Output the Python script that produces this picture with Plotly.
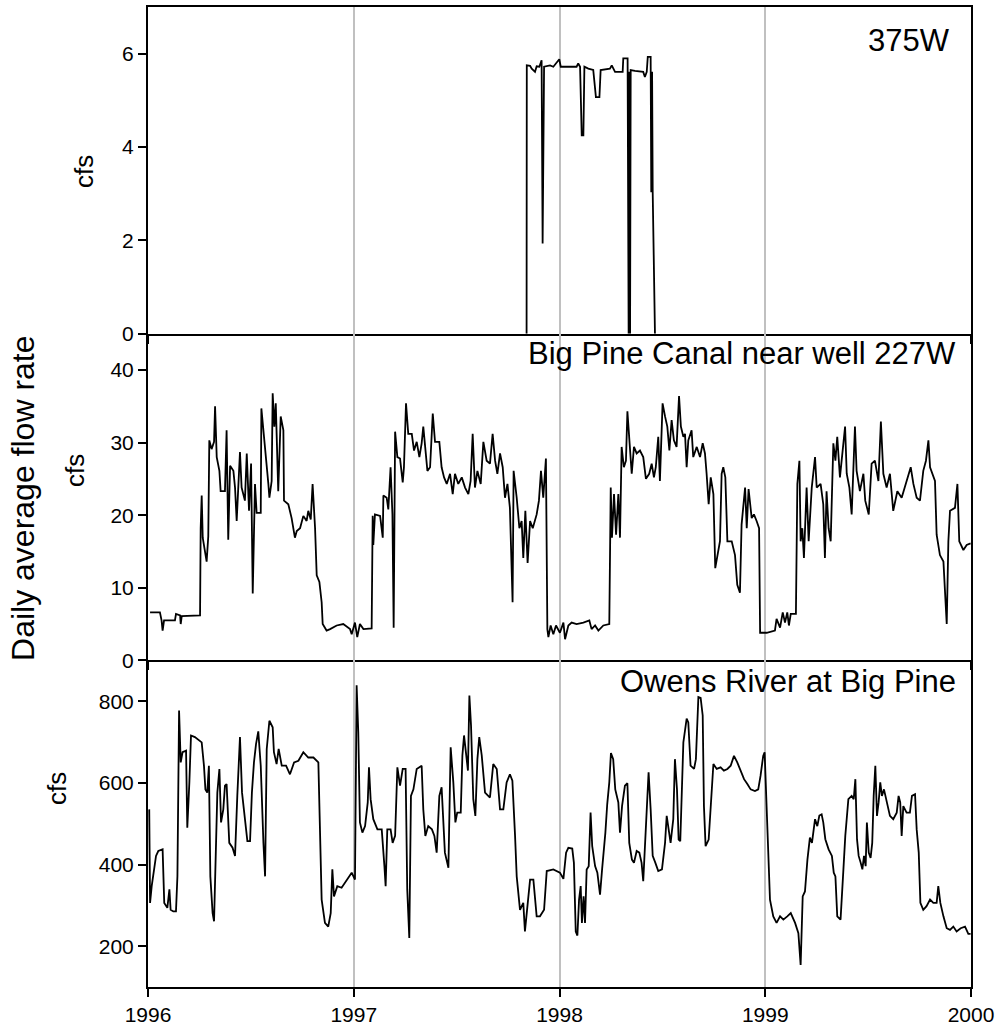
import plotly.graph_objects as go
from plotly.subplots import make_subplots

# ---------------- data (decimal years, cfs) ----------------
well_year = [1997.840, 1997.841, 1997.857, 1997.865, 1997.881, 1997.889, 1997.902, 1997.913, 1997.918,
             1997.925, 1997.954, 1997.970, 1997.999, 1998.006, 1998.083, 1998.091, 1998.100, 1998.108, 1998.116,
             1998.121, 1998.140, 1998.164, 1998.177, 1998.194, 1998.200, 1998.245, 1998.254, 1998.270, 1998.307,
             1998.310, 1998.331, 1998.336, 1998.339, 1998.343, 1998.346, 1998.367, 1998.407, 1998.415, 1998.424,
             1998.429, 1998.443, 1998.446, 1998.450, 1998.453, 1998.464]
well_cfs = [0, 5.75, 5.74, 5.68, 5.61, 5.73, 5.72, 5.86, 1.93,
            5.72, 5.75, 5.72, 5.88, 5.72, 5.72, 5.79, 5.72, 4.25, 4.25,
            5.72, 5.68, 5.65, 5.07, 5.07, 5.65, 5.68, 5.75, 5.61, 5.61,
            5.90, 5.90, 0, 5.61, 0, 5.65, 5.63, 5.61, 5.50, 5.61,
            5.93, 5.93, 3.03, 5.61, 3.03, 0]

canal_year = [
    1996.010, 1996.058, 1996.066, 1996.071, 1996.078, 1996.131, 1996.136, 1996.156, 1996.159, 1996.164,
    1996.253, 1996.256, 1996.261, 1996.266, 1996.285, 1996.293, 1996.298, 1996.309, 1996.321, 1996.326,
    1996.334, 1996.347, 1996.353, 1996.374, 1996.382, 1996.390, 1996.399, 1996.415, 1996.423, 1996.431,
    1996.447, 1996.455, 1996.471, 1996.480, 1996.491, 1996.501, 1996.509, 1996.520, 1996.528, 1996.548,
    1996.551, 1996.561, 1996.574, 1996.585, 1996.590, 1996.601, 1996.606, 1996.614, 1996.621, 1996.625,
    1996.633, 1996.645, 1996.658, 1996.661, 1996.682, 1996.698, 1996.714, 1996.723, 1996.739, 1996.755,
    1996.771, 1996.779, 1996.791, 1996.800, 1996.812, 1996.820, 1996.833, 1996.844, 1996.849, 1996.868,
    1996.885, 1996.917, 1996.949, 1996.982, 1996.990, 1997.006, 1997.017, 1997.030, 1997.047, 1997.087,
    1997.092, 1997.095, 1997.103, 1997.128, 1997.141, 1997.144, 1997.160, 1997.168, 1997.179, 1997.188,
    1997.194, 1997.201, 1997.212, 1997.225, 1997.238, 1997.244, 1997.254, 1997.265, 1997.282, 1997.293,
    1997.306, 1997.319, 1997.330, 1997.338, 1997.351, 1997.358, 1997.371, 1997.384, 1997.395, 1997.416,
    1997.427, 1997.439, 1997.452, 1997.468, 1997.481, 1997.492, 1997.508, 1997.525, 1997.541, 1997.557,
    1997.568, 1997.578, 1997.589, 1997.601, 1997.617, 1997.630, 1997.646, 1997.662, 1997.675, 1997.687,
    1997.698, 1997.711, 1997.724, 1997.735, 1997.747, 1997.759, 1997.772, 1997.777, 1997.792, 1997.805,
    1997.816, 1997.824, 1997.834, 1997.845, 1997.857, 1997.870, 1997.889, 1997.900, 1997.910, 1997.921,
    1997.934, 1997.941, 1997.946, 1997.957, 1997.970, 1997.983, 1998.002, 1998.019, 1998.027, 1998.043,
    1998.059, 1998.083, 1998.116, 1998.145, 1998.156, 1998.173, 1998.189, 1998.213, 1998.242, 1998.249,
    1998.255, 1998.265, 1998.275, 1998.286, 1998.294, 1998.302, 1998.313, 1998.323, 1998.330, 1998.339,
    1998.351, 1998.362, 1998.375, 1998.391, 1998.407, 1998.420, 1998.436, 1998.448, 1998.459, 1998.468,
    1998.480, 1998.488, 1998.501, 1998.513, 1998.524, 1998.534, 1998.545, 1998.556, 1998.569, 1998.581,
    1998.590, 1998.602, 1998.610, 1998.618, 1998.626, 1998.642, 1998.650, 1998.667, 1998.683, 1998.696,
    1998.707, 1998.715, 1998.725, 1998.735, 1998.748, 1998.757, 1998.767, 1998.780, 1998.788, 1998.796,
    1998.806, 1998.816, 1998.837, 1998.853, 1998.864, 1998.877, 1998.885, 1998.902, 1998.910, 1998.919,
    1998.934, 1998.945, 1998.958, 1998.970, 1998.975, 1999.007, 1999.047, 1999.055, 1999.072, 1999.085,
    1999.096, 1999.107, 1999.115, 1999.124, 1999.149, 1999.156, 1999.166, 1999.172, 1999.180, 1999.188,
    1999.201, 1999.211, 1999.226, 1999.242, 1999.250, 1999.269, 1999.282, 1999.290, 1999.298, 1999.308,
    1999.318, 1999.331, 1999.341, 1999.350, 1999.363, 1999.376, 1999.388, 1999.396, 1999.409, 1999.420,
    1999.436, 1999.444, 1999.460, 1999.477, 1999.486, 1999.503, 1999.517, 1999.533, 1999.550, 1999.562,
    1999.574, 1999.590, 1999.606, 1999.622, 1999.642, 1999.663, 1999.687, 1999.707, 1999.720, 1999.736,
    1999.752, 1999.768, 1999.781, 1999.793, 1999.801, 1999.825, 1999.833, 1999.841, 1999.849, 1999.866,
    1999.882, 1999.890, 1999.898, 1999.922, 1999.934, 1999.943, 1999.963, 1999.979, 1999.998]
canal_cfs = [
    6.6, 6.6, 5.5, 4.1, 5.5, 5.5, 6.4, 6.2, 5.0, 6.1,
    6.2, 18.2, 22.7, 16.9, 13.6, 17.1, 30.3, 29.1, 30.1, 35.0,
    28.0, 26.1, 23.3, 23.3, 31.7, 16.6, 26.8, 26.1, 23.8, 19.2,
    28.7, 23.8, 22.0, 28.5, 20.6, 27.1, 9.2, 24.3, 20.3, 20.3,
    34.7, 31.7, 28.5, 24.3, 22.4, 24.7, 36.8, 32.2, 35.4, 31.2,
    23.3, 33.6, 31.7, 22.0, 21.5, 19.6, 16.9, 17.8, 18.2, 19.9,
    19.2, 20.6, 19.4, 24.3, 18.2, 11.7, 10.8, 8.0, 5.0, 4.1,
    4.3, 4.8, 5.0, 4.3, 3.6, 5.2, 3.2, 5.0, 4.3, 4.4,
    19.9, 15.9, 20.1, 19.9, 16.9, 22.7, 22.4, 20.8, 26.6, 20.1,
    4.5, 31.5, 28.0, 27.8, 24.5, 26.6, 35.4, 31.2, 31.2, 28.9,
    30.1, 28.0, 29.9, 32.2, 28.0, 26.1, 26.6, 34.0, 30.1, 30.1,
    26.6, 25.2, 24.3, 25.7, 22.9, 25.7, 24.3, 25.2, 23.8, 22.9,
    24.7, 31.2, 23.8, 26.1, 24.3, 30.1, 27.5, 27.1, 31.2, 27.5,
    25.7, 28.5, 26.6, 22.4, 24.3, 21.0, 8.0, 26.1, 22.4, 18.2,
    19.2, 14.1, 20.6, 13.4, 19.2, 18.2, 20.1, 22.0, 26.1, 22.4,
    27.8, 4.3, 3.2, 4.8, 3.6, 4.8, 3.8, 5.2, 2.9, 4.8,
    5.2, 5.0, 5.2, 5.5, 4.3, 4.8, 4.1, 4.8, 5.0, 23.8,
    16.9, 22.9, 17.3, 22.9, 16.9, 29.4, 26.6, 27.5, 34.3, 29.9,
    25.7, 29.4, 28.5, 28.9, 28.0, 25.0, 25.7, 27.1, 25.2, 26.6,
    30.8, 24.7, 35.4, 33.6, 32.2, 28.9, 33.1, 30.3, 29.4, 36.4,
    32.2, 30.8, 31.2, 26.6, 30.3, 31.7, 28.0, 29.4, 28.0, 29.9,
    28.5, 25.7, 21.5, 25.2, 22.9, 12.7, 14.1, 16.4, 25.7, 26.6,
    25.2, 16.4, 16.4, 14.5, 10.4, 9.3, 18.7, 23.8, 18.2, 23.6,
    19.6, 20.1, 19.2, 18.2, 3.8, 3.8, 4.1, 5.7, 4.5, 6.6,
    5.2, 6.6, 4.8, 6.4, 6.4, 24.3, 27.5, 16.4, 18.2, 14.1,
    23.8, 16.4, 23.8, 28.0, 23.8, 24.3, 21.5, 14.1, 23.3, 18.2,
    16.4, 29.9, 27.5, 30.8, 25.2, 28.5, 32.2, 25.7, 23.8, 20.1,
    32.2, 26.1, 23.3, 25.7, 22.0, 20.1, 27.1, 27.5, 24.7, 32.9,
    25.7, 23.8, 25.7, 20.6, 23.3, 22.4, 24.7, 26.6, 24.3, 22.4,
    22.0, 26.1, 27.5, 30.3, 26.6, 24.7, 17.3, 15.5, 14.5, 13.6,
    5.0, 16.4, 20.6, 21.0, 24.3, 16.4, 15.2, 15.9, 16.1]

river_year = [
    1996.006, 1996.010, 1996.018, 1996.029, 1996.039, 1996.050, 1996.071, 1996.079, 1996.094, 1996.104,
    1996.110, 1996.123, 1996.136, 1996.143, 1996.151, 1996.159, 1996.168, 1996.185, 1996.191, 1996.201,
    1996.209, 1996.228, 1996.249, 1996.261, 1996.272, 1996.279, 1996.288, 1996.296, 1996.303, 1996.314,
    1996.321, 1996.327, 1996.337, 1996.347, 1996.355, 1996.366, 1996.374, 1996.382, 1996.395, 1996.411,
    1996.423, 1996.434, 1996.447, 1996.457, 1996.471, 1996.483, 1996.496, 1996.505, 1996.515, 1996.525,
    1996.536, 1996.548, 1996.561, 1996.569, 1996.577, 1996.590, 1996.606, 1996.612, 1996.625, 1996.635,
    1996.650, 1996.671, 1996.690, 1996.710, 1996.731, 1996.755, 1996.779, 1996.804, 1996.828, 1996.836,
    1996.844, 1996.860, 1996.876, 1996.888, 1996.896, 1996.904, 1996.920, 1996.941, 1996.957, 1996.974,
    1996.990, 1997.006, 1997.014, 1997.022, 1997.030, 1997.042, 1997.055, 1997.068, 1997.074, 1997.082,
    1997.095, 1997.115, 1997.136, 1997.149, 1997.155, 1997.163, 1997.179, 1997.189, 1997.201, 1997.212,
    1997.225, 1997.238, 1997.252, 1997.260, 1997.270, 1997.278, 1997.290, 1997.306, 1997.330, 1997.338,
    1997.348, 1997.362, 1997.380, 1997.392, 1997.403, 1997.416, 1997.427, 1997.443, 1997.460, 1997.471,
    1997.484, 1997.494, 1997.503, 1997.520, 1997.528, 1997.536, 1997.546, 1997.555, 1997.562, 1997.570,
    1997.581, 1997.591, 1997.601, 1997.610, 1997.622, 1997.638, 1997.662, 1997.678, 1997.695, 1997.711,
    1997.727, 1997.743, 1997.759, 1997.771, 1997.784, 1997.792, 1997.808, 1997.824, 1997.832, 1997.844,
    1997.857, 1997.873, 1997.889, 1997.905, 1997.925, 1997.938, 1997.970, 1998.002, 1998.019, 1998.032,
    1998.043, 1998.062, 1998.070, 1998.079, 1998.087, 1998.095, 1998.103, 1998.109, 1998.117, 1998.124,
    1998.132, 1998.142, 1998.151, 1998.159, 1998.173, 1998.184, 1998.197, 1998.207, 1998.216, 1998.223,
    1998.232, 1998.242, 1998.250, 1998.261, 1998.271, 1998.286, 1998.294, 1998.304, 1998.318, 1998.330,
    1998.339, 1998.352, 1998.362, 1998.375, 1998.388, 1998.399, 1998.407, 1998.424, 1998.433, 1998.443,
    1998.453, 1998.466, 1998.480, 1998.498, 1998.513, 1998.521, 1998.531, 1998.540, 1998.553, 1998.561,
    1998.571, 1998.579, 1998.587, 1998.602, 1998.618, 1998.626, 1998.637, 1998.654, 1998.663, 1998.675,
    1998.686, 1998.696, 1998.702, 1998.710, 1998.725, 1998.739, 1998.748, 1998.764, 1998.783, 1998.799,
    1998.816, 1998.832, 1998.848, 1998.864, 1998.880, 1998.897, 1998.913, 1998.929, 1998.950, 1998.966,
    1998.977, 1998.990, 1998.997, 1999.005, 1999.015, 1999.023, 1999.039, 1999.055, 1999.072, 1999.088,
    1999.107, 1999.124, 1999.145, 1999.161, 1999.172, 1999.182, 1999.193, 1999.205, 1999.217, 1999.227,
    1999.242, 1999.253, 1999.263, 1999.274, 1999.282, 1999.292, 1999.308, 1999.324, 1999.333, 1999.341,
    1999.350, 1999.366, 1999.379, 1999.389, 1999.404, 1999.420, 1999.430, 1999.438, 1999.446, 1999.454,
    1999.464, 1999.472, 1999.480, 1999.488, 1999.494, 1999.503, 1999.512, 1999.520, 1999.527, 1999.535,
    1999.543, 1999.551, 1999.559, 1999.567, 1999.577, 1999.593, 1999.606, 1999.622, 1999.639, 1999.648,
    1999.656, 1999.663, 1999.671, 1999.687, 1999.703, 1999.713, 1999.728, 1999.736, 1999.746, 1999.754,
    1999.768, 1999.784, 1999.801, 1999.817, 1999.833, 1999.841, 1999.851, 1999.866, 1999.882, 1999.898,
    1999.914, 1999.930, 1999.950, 1999.971, 1999.987, 1999.998]
river_cfs = [
    535, 306, 347, 388, 421, 433, 437, 306, 294, 339,
    289, 285, 285, 371, 777, 650, 675, 679, 490, 601,
    716, 712, 703, 699, 642, 584, 576, 642, 371, 281,
    261, 388, 576, 634, 503, 535, 593, 597, 453, 441,
    421, 568, 712, 576, 511, 457, 457, 576, 650, 695,
    726, 642, 453, 371, 683, 752, 736, 675, 646, 683,
    642, 642, 621, 650, 654, 675, 662, 662, 650, 503,
    314, 257, 248, 281, 388, 322, 347, 343, 355, 371,
    380, 363, 839, 724, 503, 478, 494, 552, 638, 560,
    511, 486, 486, 396, 347, 486, 486, 453, 470, 638,
    593, 634, 634, 339, 220, 568, 584, 634, 642, 535,
    470, 494, 486, 470, 429, 568, 589, 429, 392, 687,
    601, 503, 527, 527, 667, 716, 675, 630, 814, 740,
    560, 519, 658, 712, 667, 576, 564, 646, 634, 535,
    535, 601, 621, 605, 470, 371, 289, 306, 236, 298,
    363, 363, 273, 273, 289, 384, 388, 380, 365, 429,
    441, 439, 404, 236, 226, 314, 347, 257, 322, 257,
    388, 396, 527, 445, 396, 380, 326, 388, 437, 478,
    548, 601, 673, 658, 584, 552, 478, 543, 593, 599,
    453, 412, 404, 433, 429, 404, 359, 543, 626, 535,
    421, 404, 384, 388, 453, 519, 486, 453, 511, 658,
    584, 461, 457, 699, 757, 748, 642, 634, 658, 810,
    808, 765, 543, 445, 461, 593, 646, 634, 638, 630,
    634, 642, 666, 650, 630, 609, 597, 584, 580, 584,
    617, 666, 675, 568, 404, 314, 273, 257, 273, 265,
    273, 281, 257, 232, 154, 322, 334, 412, 466, 453,
    511, 494, 520, 523, 503, 462, 437, 421, 380, 371,
    273, 265, 380, 470, 560, 568, 560, 609, 462, 421,
    404, 388, 421, 396, 503, 429, 416, 453, 568, 642,
    519, 552, 601, 568, 584, 543, 519, 511, 527, 568,
    552, 470, 543, 527, 527, 568, 572, 486, 429, 306,
    289, 298, 314, 306, 306, 347, 306, 273, 244, 240,
    248, 236, 244, 248, 230, 230]

year_ticks = [1996, 1997, 1998, 1999, 2000]
year_labels = ["1996", "1997", "1998", "1999", "2000"]
panel_names = ["375W", "Big Pine Canal near well 227W", "Owens River at Big Pine"]
y_ranges = [[0, 7], [0, 45], [100, 900]]
y_ticks = [[0, 2, 4, 6], [0, 10, 20, 30, 40], [200, 400, 600, 800]]

# ---------------- figure ----------------
FONT = "Liberation Sans, Arial, sans-serif"
fig = make_subplots(rows=3, cols=1, shared_xaxes=True, vertical_spacing=0)

series = [(well_year, well_cfs), (canal_year, canal_cfs), (river_year, river_cfs)]
for i, (xs, ys) in enumerate(series, start=1):
    fig.add_trace(go.Scatter(x=xs, y=ys, mode="lines",
                             line=dict(color="black", width=1.8),
                             showlegend=False, hoverinfo="skip"), row=i, col=1)

for i in range(1, 4):
    fig.update_xaxes(range=[1996, 2000], tickvals=year_ticks, ticktext=year_labels,
                     showgrid=True, gridcolor="#c0c0c0", gridwidth=1.5,
                     ticks="outside", ticklen=8, tickwidth=2, tickcolor="black",
                     showline=True, linecolor="black", linewidth=2,
                     mirror=(i == 1),
                     zeroline=False, showticklabels=(i == 3),
                     tickfont=dict(family=FONT, size=21, color="black"),
                     row=i, col=1)
    fig.update_yaxes(range=y_ranges[i - 1], tickvals=y_ticks[i - 1],
                     showgrid=False, zeroline=False,
                     ticks="outside", ticklen=8, tickwidth=1.5, tickcolor="black",
                     showline=True, linecolor="black", linewidth=2, mirror=True,
                     tickfont=dict(family=FONT, size=21, color="black"),
                     row=i, col=1)

annotations = []
name_pos = [(0.9769, 0.9663), (0.9842, 0.6464), (0.9842, 0.3122)]
for name, (ax, ay) in zip(panel_names, name_pos):
    annotations.append(dict(text=name, xref="paper", yref="paper", x=ax, y=ay,
                            xanchor="right", yanchor="middle", showarrow=False,
                            font=dict(family=FONT, size=31, color="black")))
cfs_pos = [(-0.0778, 0.8327), (-0.0887, 0.5276), (-0.1106, 0.2031)]
for ax, ay in cfs_pos:
    annotations.append(dict(text="cfs", xref="paper", yref="paper", x=ax, y=ay,
                            xanchor="center", yanchor="middle", textangle=-90,
                            showarrow=False,
                            font=dict(family=FONT, size=26, color="black")))
annotations.append(dict(text="Daily average flow rate", xref="paper", yref="paper",
                        x=-0.1519, y=0.499, xanchor="center", yanchor="middle",
                        textangle=-90, showarrow=False,
                        font=dict(family=FONT, size=32, color="black")))

fig.update_layout(width=1002, height=1036,
                  margin=dict(l=148, r=31, t=7, b=49, autoexpand=False),
                  paper_bgcolor="white", plot_bgcolor="white",
                  font=dict(family=FONT, color="black"),
                  annotations=annotations)

fig.write_html("out.html", config={"displayModeBar": False},
               post_script="document.body.style.margin='0';")
